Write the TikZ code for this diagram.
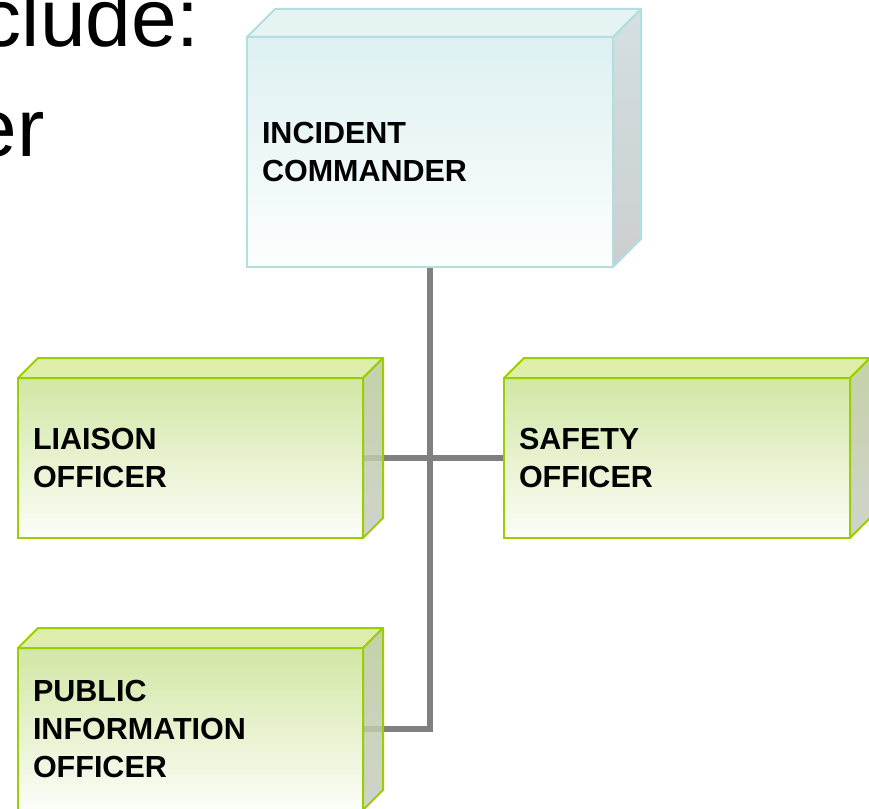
\documentclass[tikz,border=0pt]{standalone}
\usepackage{fontspec}
\setmainfont{Liberation Sans}
\usetikzlibrary{backgrounds}
\definecolor{grnline}{RGB}{155,206,0}
\definecolor{grntop}{RGB}{210,231,164}
\definecolor{grnbot}{RGB}{252,253,249}
\definecolor{grnlid}{RGB}{222,237,170}
\definecolor{grnside}{RGB}{186,202,152}
\definecolor{grnsideb}{RGB}{200,203,196}
\definecolor{tealline}{RGB}{178,222,224}
\definecolor{tealtop}{RGB}{221,240,241}
\definecolor{tealbot}{RGB}{253,254,254}
\definecolor{teallid}{RGB}{230,243,243}
\definecolor{tealside}{RGB}{206,220,222}
\definecolor{tealsideb}{RGB}{199,201,201}
\definecolor{connc}{RGB}{128,128,128}
\tikzset{
  face/.style={rectangle, line width=2pt, outer sep=0pt, inner xsep=15pt, inner ysep=0pt,
    align=left, font=\fontsize{30.5}{38}\selectfont\bfseries},
  greenbox/.style={face, draw=grnline, top color=grntop, bottom color=grnbot,
    minimum width=345pt, minimum height=160pt, text width=315pt},
  tealbox/.style={face, draw=tealline, top color=tealtop, bottom color=tealbot,
    minimum width=366pt, minimum height=230pt, text width=336pt},
  greenlid/.style={draw=grnline, line width=2pt, fill=grnlid, line join=round},
  greenside/.style={draw=grnline, line width=2pt, top color=grnside, bottom color=grnsideb, fill opacity=0.85, line join=round},
  teallid/.style={draw=tealline, line width=2pt, fill=teallid, line join=round},
  tealside/.style={draw=tealline, line width=2pt, top color=tealside, bottom color=tealsideb, fill opacity=0.9, line join=round},
  conn/.style={draw=connc, line width=6pt},
  bigtext/.style={inner sep=0pt, anchor=base east}
}
\begin{document}
\begin{tikzpicture}[x=1pt,y=-1pt]
\path[use as bounding box] (0,0) rectangle (869,808);
\clip (0,0) rectangle (869,808);

% heading fragments
\node[bigtext, font=\fontsize{82}{82}\selectfont] (t1) at (200,47) {clude:};
\node[bigtext, font=\fontsize{82}{82}\selectfont] (t2) at (45,156) {er};

% boxes
\node[tealbox] (IC) at (430,152) {INCIDENT\\COMMANDER};
\node[greenbox] (LO) at (190.5,458) {LIAISON\\OFFICER};
\node[greenbox, minimum width=346pt, text width=316pt] (SO) at (677,458) {SAFETY\\OFFICER};
\node[greenbox, minimum height=162pt] (PIO) at (190.5,729) {PUBLIC\\INFORMATION\\OFFICER};

% 3D lids and sides
\path[teallid] (IC.north west) -- ++(28,-28) -- ([shift={(28,-28)}]IC.north east) -- (IC.north east) -- cycle;
\path[tealside] (IC.north east) -- ++(28,-28) -- ([shift={(28,-28)}]IC.south east) -- (IC.south east) -- cycle;
\foreach \n in {LO,SO,PIO}{
  \path[greenlid] (\n.north west) -- ++(20,-20) -- ([shift={(20,-20)}]\n.north east) -- (\n.north east) -- cycle;
  \path[greenside] (\n.north east) -- ++(20,-20) -- ([shift={(20,-20)}]\n.south east) -- (\n.south east) -- cycle;
}

% connectors
\begin{pgfonlayer}{background}
\draw[conn] (LO.east) -- (SO.west);
\draw[conn] (IC.south) -- (IC.south |- PIO.east) -- (PIO.east);
\end{pgfonlayer}
\end{tikzpicture}
\end{document}
